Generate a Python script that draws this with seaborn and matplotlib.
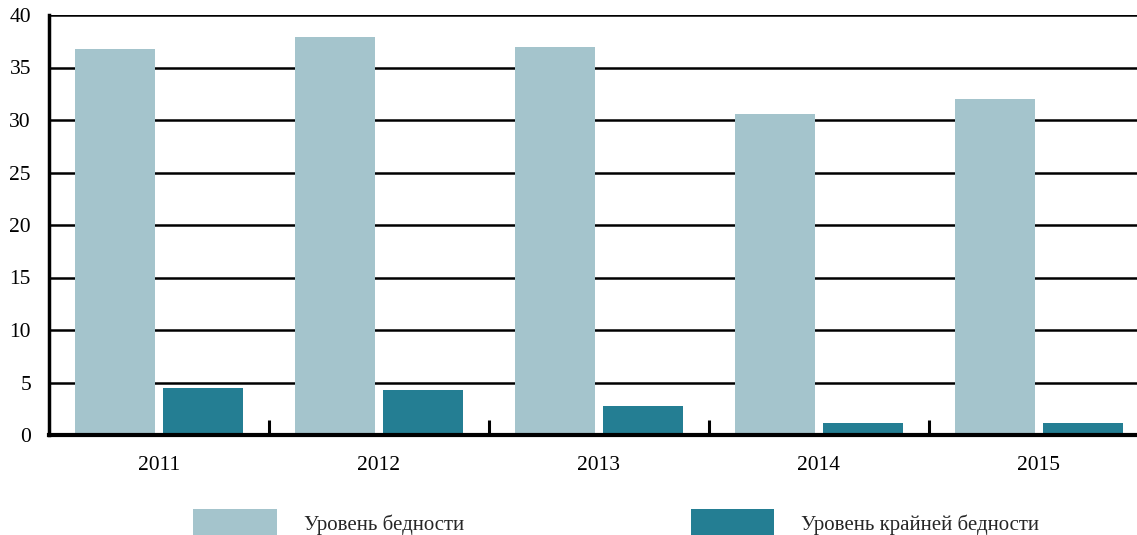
import numpy as np
import pandas as pd
import seaborn as sns
import matplotlib.pyplot as plt
from matplotlib.ticker import FixedLocator

# values, percent
years = ['2011', '2012', '2013', '2014', '2015']
poverty = [36.8, 37.9, 37.0, 30.6, 32.0]
extreme_poverty = [4.5, 4.3, 2.8, 1.1, 1.1]
series_names = ['Уровень бедности', 'Уровень крайней бедности']
colors = ['#A4C4CC', '#247E93']

df = pd.DataFrame({
    'year': years * 2,
    'value': poverty + extreme_poverty,
    'series': [series_names[0]] * len(years) + [series_names[1]] * len(years),
})

sns.set_style('white')
plt.rcParams['font.family'] = ['Liberation Serif', 'DejaVu Serif']

fig = plt.figure(figsize=(11.37, 5.35), dpi=100)
ax = fig.add_axes([49 / 1137, 100 / 535, 1100 / 1137, 420 / 535])

sns.barplot(data=df, x='year', y='value', hue='series', palette=colors,
            width=0.8, gap=0.1, saturation=1, linewidth=0, ax=ax, zorder=3)

ax.set_xlim(-0.5, 4.5)
ax.set_ylim(0, 40)
ax.set_yticks(np.arange(0, 45, 5))
ax.yaxis.grid(True, color='black', linewidth=1.8, zorder=0)
ax.set_axisbelow(True)
ax.set_xlabel('')
ax.set_ylabel('')

for s in ['right', 'top']:
    ax.spines[s].set_visible(False)
ax.spines['left'].set_linewidth(2.5)
ax.spines['bottom'].set_linewidth(3)
ax.spines['left'].set_color('black')
ax.spines['bottom'].set_color('black')
ax.spines['bottom'].set_zorder(5)

ax.tick_params(axis='both', which='major', length=0, labelsize=15.5, colors='black')
ax.tick_params(axis='x', pad=15)
ax.tick_params(axis='y', pad=13)
ax.xaxis.set_minor_locator(FixedLocator([0.5, 1.5, 2.5, 3.5]))
ax.tick_params(axis='x', which='minor', bottom=True, direction='in',
               length=11, width=2.2, color='black')

sns.move_legend(ax, 'upper left', bbox_to_anchor=(185 / 1137, 34 / 535),
                bbox_transform=fig.transFigure, ncol=2, frameon=False, title=None,
                fontsize=15, handlelength=4.0, handleheight=1.6,
                handletextpad=1.3, columnspacing=10.9, borderaxespad=0)

fig.savefig('out.png', dpi=100)
